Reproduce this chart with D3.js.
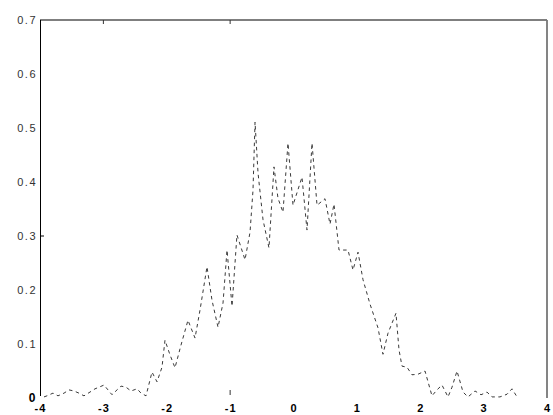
<!DOCTYPE html>
<html>
<head>
<meta charset="utf-8">
<script src="https://cdn.jsdelivr.net/npm/d3@7"></script>
<style>
  html, body { margin: 0; padding: 0; background: #fff; }
  svg { display: block; }
</style>
</head>
<body>
<svg id="chart" width="553" height="415"></svg>
<script>
// ---- data ----
const xValues = [-3.937,-3.89,-3.795,-3.716,-3.621,-3.542,-3.464,-3.385,-3.306,-3.211,-3.132,-3.069,-2.99,-2.927,-2.864,-2.785,-2.722,-2.643,-2.564,-2.469,-2.406,-2.327,-2.233,-2.154,-2.075,-2.028,-1.949,-1.87,-1.775,-1.665,-1.554,-1.475,-1.365,-1.286,-1.191,-1.112,-1.049,-0.97,-0.892,-0.765,-0.686,-0.639,-0.607,-0.56,-0.481,-0.387,-0.308,-0.245,-0.166,-0.087,-0.008,0.134,0.213,0.292,0.371,0.497,0.576,0.639,0.718,0.86,0.939,1.018,1.097,1.207,1.333,1.412,1.491,1.617,1.665,1.712,1.791,1.87,1.964,2.075,2.185,2.264,2.343,2.438,2.501,2.58,2.675,2.753,2.864,2.959,3.053,3.132,3.258,3.369,3.448,3.527];
const yValues = [0.002,0.004,0.009,0.004,0.009,0.015,0.013,0.009,0.004,0.011,0.017,0.020,0.024,0.015,0.006,0.015,0.022,0.020,0.013,0.017,0.009,0.004,0.048,0.030,0.057,0.107,0.080,0.056,0.098,0.144,0.111,0.163,0.243,0.181,0.131,0.176,0.274,0.170,0.302,0.256,0.307,0.385,0.511,0.417,0.330,0.278,0.428,0.370,0.344,0.472,0.357,0.409,0.311,0.472,0.357,0.369,0.322,0.359,0.274,0.274,0.237,0.270,0.219,0.174,0.130,0.081,0.120,0.157,0.089,0.059,0.057,0.043,0.044,0.050,0.004,0.015,0.024,0.002,0.020,0.050,0.011,0.002,0.013,0.006,0.011,0.002,0.002,0.007,0.017,0.002];
const xTicks = [-4,-3,-2,-1,0,1,2,3,4];
const yTicks = [0,0.1,0.2,0.3,0.4,0.5,0.6,0.7];
// tick marks that remain visible in the picture
const topTickMarks = [-3,-1];
const bottomTickMarks = [-1];
const leftTickMarks = [0.3];

const points = xValues.map((x, i) => ({x: x, y: yValues[i]}));

// ---- layout ----
const L = 40, R = 547, T = 20, B = 398;
const svg = d3.select("#chart");
const x = d3.scaleLinear().domain([-4, 4]).range([L, R]);
const y = d3.scaleLinear().domain([0, 0.7]).range([B, T]);

// axes labels
const fmtY = d => d === 0 ? "0" : d3.format(".1f")(d);
const gy = svg.append("g").attr("transform", `translate(${L},0)`)
  .call(d3.axisLeft(y).tickValues(yTicks).tickFormat(fmtY).tickSize(0).tickPadding(3));
gy.select(".domain").remove();
gy.selectAll("text")
  .attr("fill", d => d === 0 ? "#000" : "#333")
  .style("font-family", "'Liberation Sans', Arial, sans-serif")
  .style("font-size", d => d === 0 ? "12px" : "11px")
  .style("letter-spacing", "1.5px")
  .style("font-weight", d => d === 0 ? "bold" : "normal");

const gx = svg.append("g").attr("transform", `translate(0,${B})`)
  .call(d3.axisBottom(x).tickValues(xTicks).tickFormat(d3.format("d")).tickSize(0).tickPadding(6));
gx.select(".domain").remove();
gx.selectAll("text")
  .text(d => String(d))
  .attr("fill", "#000")
  .style("font-family", "'Liberation Sans', Arial, sans-serif")
  .style("font-size", "11px")
  .style("font-weight", "bold")
  .style("letter-spacing", "1px");

// frame lines (no bottom line visible)
svg.append("line").attr("x1", L).attr("x2", R).attr("y1", T).attr("y2", T)
  .attr("stroke", "#555").attr("stroke-width", 1.4);
svg.append("line").attr("x1", L + 0.5).attr("x2", L + 0.5).attr("y1", T).attr("y2", B - 2)
  .attr("stroke", "#000").attr("stroke-width", 1);
svg.append("line").attr("x1", R).attr("x2", R).attr("y1", T).attr("y2", B)
  .attr("stroke", "#777").attr("stroke-width", 1.8);

// visible tick marks
svg.selectAll(".tt").data(topTickMarks).enter().append("line")
  .attr("x1", d => x(d)).attr("x2", d => x(d)).attr("y1", T).attr("y2", T + 4)
  .attr("stroke", "#333").attr("stroke-width", 1);
svg.selectAll(".bt").data(bottomTickMarks).enter().append("line")
  .attr("x1", d => x(d)).attr("x2", d => x(d)).attr("y1", B - 8).attr("y2", B - 3)
  .attr("stroke", "#333").attr("stroke-width", 1);
svg.selectAll(".lt").data(leftTickMarks).enter().append("line")
  .attr("x1", L).attr("x2", L + 4).attr("y1", d => y(d)).attr("y2", d => y(d))
  .attr("stroke", "#000").attr("stroke-width", 1);

// dashed curve
const line = d3.line().x(d => x(d.x)).y(d => y(d.y));
svg.append("path").datum(points)
  .attr("d", line)
  .attr("fill", "none")
  .attr("stroke", "#222")
  .attr("stroke-width", 0.9)
  .attr("stroke-dasharray", "3.5,3.5");
</script>
</body>
</html>
